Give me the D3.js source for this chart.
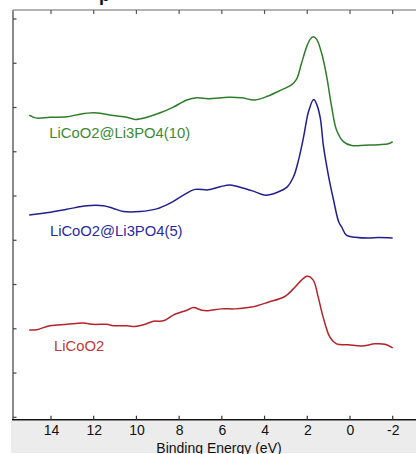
<!DOCTYPE html>
<html>
<head>
<meta charset="utf-8">
<script src="https://cdn.jsdelivr.net/npm/d3@7"></script>
<style>
  html, body { margin: 0; padding: 0; background: #fff; }
  svg { display: block; }
</style>
</head>
<body>
<svg id="chart" width="416" height="454"></svg>
<script>
// ---- data (binding energy in eV, intensity in arbitrary units) ----
const xTicks = [14, 12, 10, 8, 6, 4, 2, 0, -2];
const yTicks = [0, 1, 2, 3, 4, 5, 6, 7, 8, 9];
const seriesNames = ["LiCoO2@Li3PO4(10)", "LiCoO2@Li3PO4(5)", "LiCoO2"];

const energyLi3PO4_10 = [15.02,14.67,14.05,13.26,12.64,12.02,11.70,11.08,10.45,10.06,9.51,8.89,8.27,7.64,7.17,6.64,5.70,5.08,4.45,3.83,3.20,2.74,2.50,2.27,2.03,1.87,1.72,1.56,1.33,1.09,0.86,0.63,0.31,-0.08,-0.70,-1.33,-1.80,-2.00];
const intensityLi3PO4_10 = [6.83,6.76,6.78,6.79,6.85,6.88,6.87,6.82,6.78,6.73,6.78,6.88,7.01,7.17,7.22,7.20,7.23,7.22,7.17,7.26,7.40,7.51,7.64,8.00,8.37,8.54,8.60,8.54,8.23,7.70,7.02,6.49,6.23,6.14,6.15,6.16,6.18,6.23];

const energyLi3PO4_5 = [15.02,14.36,13.26,12.33,11.55,11.08,10.61,9.83,9.05,8.42,7.80,7.25,6.64,6.08,5.61,5.14,4.52,3.97,3.42,2.95,2.64,2.41,2.17,1.94,1.70,1.55,1.39,1.24,1.00,0.77,0.53,0.39,0.16,-0.24,-0.86,-1.33,-2.00];
const intensityLi3PO4_5 = [4.57,4.61,4.70,4.78,4.78,4.72,4.65,4.65,4.71,4.84,5.02,5.15,5.14,5.21,5.25,5.20,5.11,5.02,5.08,5.20,5.44,5.81,6.34,6.91,7.18,7.06,6.76,6.12,5.44,4.91,4.42,4.30,4.11,4.07,4.05,4.06,4.05];

const energyLiCoO2 = [15.02,14.67,14.05,13.26,12.49,12.02,11.39,11.08,10.45,10.06,9.67,9.20,8.74,8.27,7.64,7.33,6.94,6.64,6.02,5.39,4.61,3.83,3.05,2.58,2.27,1.99,1.72,1.49,1.26,0.94,0.63,0.08,-0.55,-1.17,-1.64,-2.00];
const intensityLiCoO2 = [1.97,1.98,2.07,2.10,2.13,2.10,2.10,2.07,2.07,2.05,2.09,2.17,2.18,2.31,2.42,2.48,2.42,2.41,2.45,2.45,2.49,2.60,2.73,2.94,3.10,3.19,3.10,2.72,2.27,1.81,1.66,1.64,1.61,1.66,1.65,1.57];

// label anchor positions in data units (energy, intensity)
const labelEnergy = [14.08, 14.05, 13.86];
const labelIntensity = [6.30, 4.10, 1.50];

// ---- drawing ----
const svg = d3.select("#chart");
const colors = ["#2f7d2a", "#1f1f8f", "#b3242a"];
const labelColors = ["#3b8a33", "#2a2aa0", "#c23a36"];

const plotLeft = 13, plotTop = 10, bottomAxisY = 419.7;
const x = d3.scaleLinear().domain([14, -2]).range([51, 392.7]);
const y = d3.scaleLinear().domain([0, 9]).range([417.3, 19]);
const font = "Liberation Sans, Arial, sans-serif";

// gray band under the plot
svg.append("rect").attr("x", 11).attr("y", 421).attr("width", 405).attr("height", 32).attr("fill", "#ececec");

// top border
svg.append("line").attr("x1", plotLeft).attr("x2", 416).attr("y1", plotTop).attr("y2", plotTop)
  .attr("stroke", "#9a9a9a").attr("stroke-width", 1.5);
svg.selectAll(".ttick").data(xTicks).join("line").attr("class", "ttick")
  .attr("x1", d => x(d)).attr("x2", d => x(d)).attr("y1", plotTop).attr("y2", plotTop + 4)
  .attr("stroke", "#555").attr("stroke-width", 1.2);

// left axis
svg.append("line").attr("x1", plotLeft).attr("x2", plotLeft).attr("y1", plotTop).attr("y2", bottomAxisY)
  .attr("stroke", "#8a8a8a").attr("stroke-width", 2);
svg.selectAll(".ltick").data(yTicks).join("line").attr("class", "ltick")
  .attr("x1", plotLeft).attr("x2", plotLeft + 3.5).attr("y1", d => y(d)).attr("y2", d => y(d))
  .attr("stroke", "#444").attr("stroke-width", 1.2);

// bottom axis
const xAxis = d3.axisBottom(x).tickValues(xTicks).tickSize(0).tickPadding(0).tickFormat(d => String(d));
const gx = svg.append("g").attr("transform", `translate(0,${bottomAxisY})`).call(xAxis);
gx.select(".domain").remove();
gx.selectAll("text").attr("dy", null).attr("y", 15.8)
  .style("font-family", font).style("font-size", "14px").attr("fill", "#111");
svg.append("line").attr("x1", plotLeft - 1).attr("x2", 416).attr("y1", bottomAxisY).attr("y2", bottomAxisY)
  .attr("stroke", "#111").attr("stroke-width", 1.5);
svg.selectAll(".btick").data(xTicks).join("line").attr("class", "btick")
  .attr("x1", d => x(d)).attr("x2", d => x(d)).attr("y1", bottomAxisY).attr("y2", bottomAxisY - 4)
  .attr("stroke", "#333").attr("stroke-width", 1.2);

// axis title
svg.append("text").attr("x", 219).attr("y", 452.5).attr("text-anchor", "middle")
  .style("font-family", font).style("font-size", "14px").attr("fill", "#111")
  .text("Binding Energy (eV)");

// cut-off title glyph at top
svg.append("text").attr("x", 99).attr("y", 1)
  .style("font-family", font).style("font-size", "18px").style("font-weight", "bold")
  .attr("fill", "#111").text("p");

// curves
const series = [
  [energyLi3PO4_10, intensityLi3PO4_10],
  [energyLi3PO4_5, intensityLi3PO4_5],
  [energyLiCoO2, intensityLiCoO2]
];
const line = d3.line().x(d => x(d[0])).y(d => y(d[1])).curve(d3.curveCatmullRom.alpha(0.5));
series.forEach((s, i) => {
  const pts = s[0].map((e, j) => [e, s[1][j]]);
  svg.append("path").datum(pts).attr("d", line)
    .attr("fill", "none").attr("stroke", colors[i]).attr("stroke-width", 1.5).attr("stroke-linejoin", "round");
});

// labels
seriesNames.forEach((n, i) => {
  svg.append("text").attr("x", x(labelEnergy[i])).attr("y", y(labelIntensity[i]))
    .style("font-family", font).style("font-size", "14.8px")
    .attr("fill", labelColors[i]).text(n);
});
</script>
</body>
</html>
